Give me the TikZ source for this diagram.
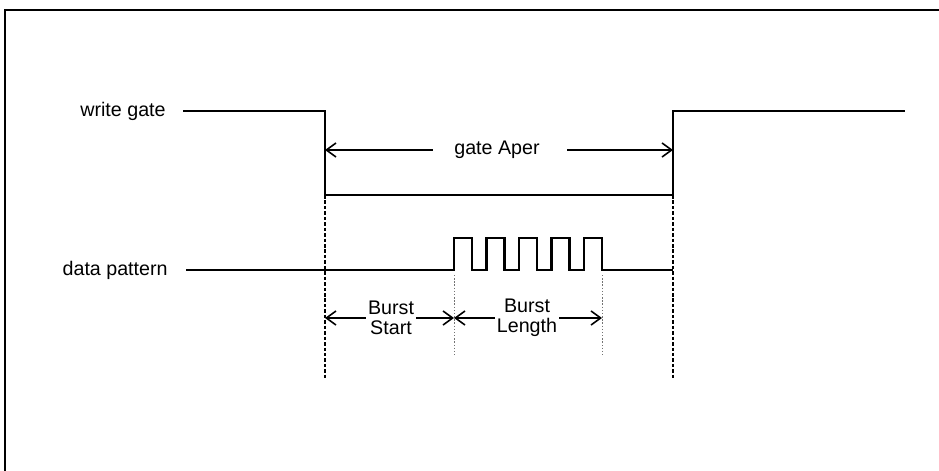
\documentclass[tikz,border=0pt]{standalone}
\usepackage{fontspec}
\setmainfont{Liberation Sans}
\usetikzlibrary{arrows.meta}

\begin{document}
\begin{tikzpicture}[
  x=0.02cm, y=-0.02cm,
  font=\fontsize{11.2}{11.6}\selectfont,
  marco/.style={line width=1.5pt},
  senal/.style={line width=1.3pt, line join=miter},
  guia/.style={line width=1.3pt, dash pattern=on 2pt off 1.1pt},
  guiafina/.style={draw=black!55, line width=0.45pt, dash pattern=on 0.8pt off 1pt},
  cota/.style={-{Straight Barb[length=5.5pt,width=8pt]}, line width=0.9pt},
  etiqueta/.style={anchor=east, inner sep=0pt},
  rotulo/.style={align=center, inner sep=0pt}
]
\useasboundingbox (0,0) rectangle (939,470);
% frame (only top and left show)
\coordinate (m0) at (5,10);
\draw[marco] (5,475) -- (m0) -- (945,10);

% write gate
\node[etiqueta] (wg) at (166,111) {write gate};
\coordinate (w0) at (183,111);
\coordinate (w1) at (325,111);
\coordinate (w2) at (325,195);
\coordinate (w3) at (673,195);
\coordinate (w4) at (673,111);
\coordinate (w5) at (905,111);
\draw[senal] (w0) -- (w1) -- (w2) -- (w3) -- (w4) -- (w5);

% data pattern
\node[etiqueta] (dp) at (168,270) {data pattern};
\coordinate (d0) at (186,270);
\coordinate (d1) at (454,270);
\coordinate (d2) at (673,270);
\draw[senal] (d0) -- (d1)
  foreach \i in {1,...,4} {-- ++(0,-32) -- ++(18,0) -- ++(0,32) -- ++(14.5,0)}
  -- ++(0,-32) -- ++(18,0) -- ++(0,32) coordinate (d3) -- (d2);

% guide lines
\coordinate (g1) at (325,380);
\coordinate (g2) at (673,380);
\draw[guia] (w2) -- (g1);
\draw[guia] (w3) -- (g2);
\coordinate (f1) at (454,355);
\coordinate (f2) at (602,355);
\draw[guiafina] (454,275) -- (f1);
\draw[guiafina] (602,275) -- (f2);

% gate Aper
\node[rotulo] (aper) at (497,150) {gate Aper};
\draw[cota] ([xshift=-0.42cm]aper.west) -- (aper.west -| w2);
\draw[cota] ([xshift=0.54cm]aper.east) -- (aper.east -| w3);

% burst start / burst length
\node[rotulo] (bs) at (391,318) {Burst\\Start};
\node[rotulo] (bl) at (527,318) {Burst\\Length};
\draw[cota] ([xshift=-0.04cm]bs.west) -- (bs.west -| w2);
\draw[cota] ([xshift=0.04cm]bs.east) -- (bs.east -| f1);
\draw[cota] ([xshift=-0.04cm]bl.west) -- (bl.west -| f1);
\draw[cota] ([xshift=0.04cm]bl.east) -- (bl.east -| f2);
\end{tikzpicture}
\end{document}
